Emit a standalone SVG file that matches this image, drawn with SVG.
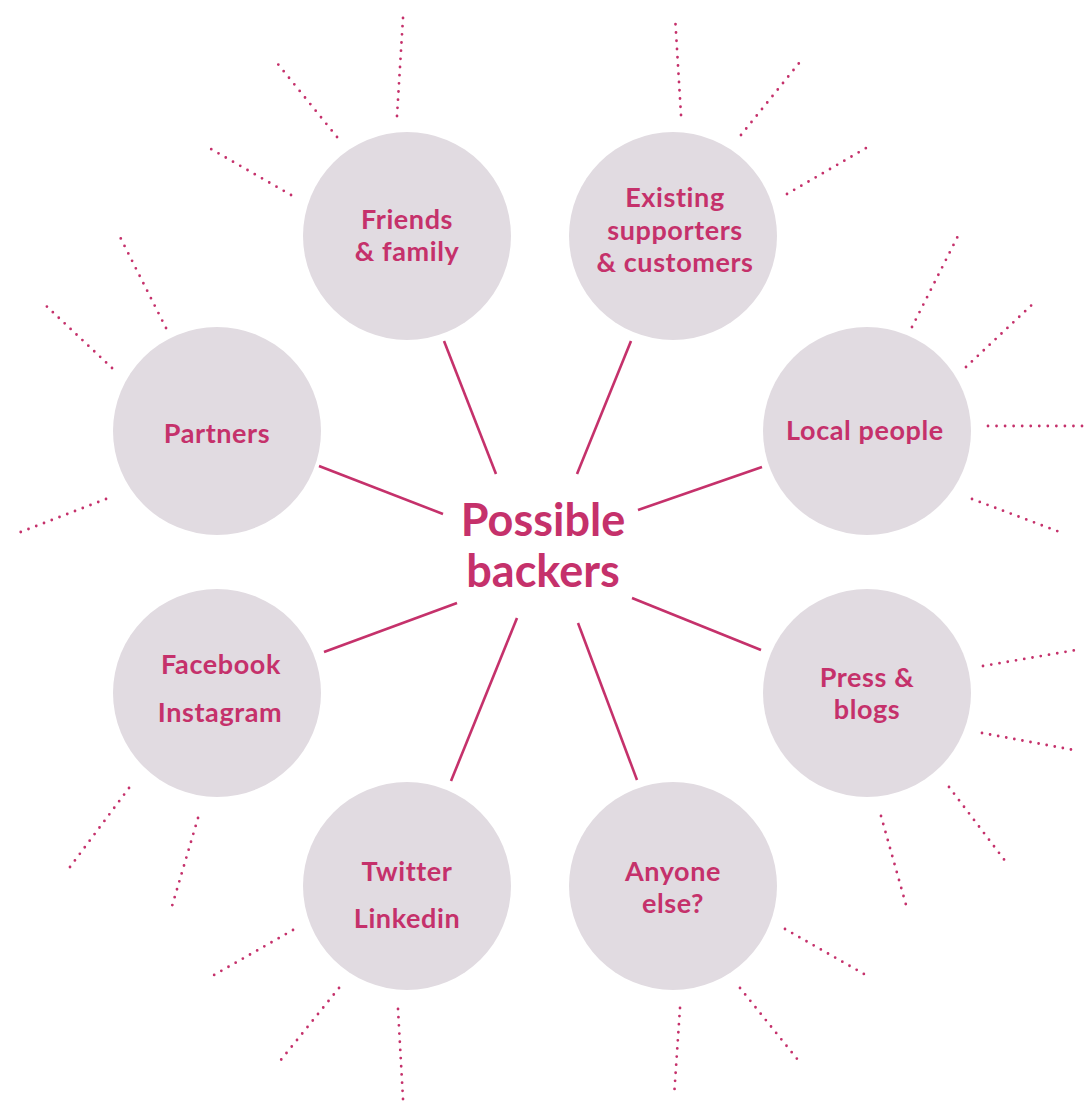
<svg xmlns="http://www.w3.org/2000/svg" width="1086" height="1104" viewBox="0 0 1086 1104">
<style>
.node{fill:#e1dbe1}
.lbl{font-family:Lato,"Open Sans","Liberation Sans",sans-serif;font-weight:700;font-size:27px;letter-spacing:0.6px;fill:#c5316b;text-anchor:middle}
.title{font-size:45px;letter-spacing:0}
.conn{stroke:#c5316b;stroke-width:2.6;fill:none;stroke-linecap:butt}
.dot{stroke:#c5316b;stroke-width:2.8;fill:none;stroke-linecap:round;stroke-dasharray:0 1}
</style>
<rect width="1086" height="1104" fill="#ffffff"/>
<g id="rays">
<line class="dot" pathLength="12" x1="397" y1="116" x2="403" y2="18"/>
<line class="dot" pathLength="12" x1="337" y1="137" x2="273" y2="58"/>
<line class="dot" pathLength="12" x1="291" y1="195" x2="204" y2="145"/>
<line class="dot" pathLength="12" x1="681" y1="115" x2="675" y2="16"/>
<line class="dot" pathLength="12" x1="741" y1="135" x2="804" y2="57"/>
<line class="dot" pathLength="12" x1="787" y1="194" x2="873" y2="144"/>
<line class="dot" pathLength="13" x1="166" y1="328" x2="117" y2="231"/>
<line class="dot" pathLength="12" x1="112" y1="368" x2="41" y2="301"/>
<line class="dot" pathLength="12" x1="106" y1="499" x2="13" y2="535"/>
<line class="dot" pathLength="13" x1="912" y1="327" x2="961" y2="230"/>
<line class="dot" pathLength="12" x1="966" y1="367" x2="1037" y2="300"/>
<line class="dot" pathLength="11" x1="988" y1="426" x2="1082" y2="426"/>
<line class="dot" pathLength="12" x1="972" y1="499" x2="1065" y2="534"/>
<line class="dot" pathLength="12" x1="983" y1="666" x2="1082" y2="649"/>
<line class="dot" pathLength="12" x1="982" y1="733" x2="1079" y2="751"/>
<line class="dot" pathLength="12" x1="949" y1="787" x2="1009" y2="866"/>
<line class="dot" pathLength="12" x1="881" y1="816" x2="908" y2="912"/>
<line class="dot" pathLength="12" x1="129" y1="788" x2="70" y2="867"/>
<line class="dot" pathLength="12" x1="198" y1="818" x2="170" y2="913"/>
<line class="dot" pathLength="12" x1="293" y1="930" x2="207" y2="979"/>
<line class="dot" pathLength="12" x1="339" y1="988" x2="276" y2="1066"/>
<line class="dot" pathLength="11" x1="398" y1="1009" x2="403" y2="1099"/>
<line class="dot" pathLength="12" x1="785" y1="929" x2="871" y2="978"/>
<line class="dot" pathLength="12" x1="740" y1="988" x2="802" y2="1065"/>
<line class="dot" pathLength="11" x1="680" y1="1008" x2="674" y2="1097"/>
</g>
<g id="connectors">
<line class="conn" x1="444" y1="341" x2="496" y2="474"/>
<line class="conn" x1="631" y1="341" x2="577" y2="474"/>
<line class="conn" x1="319" y1="466" x2="443" y2="514"/>
<line class="conn" x1="762" y1="467" x2="638" y2="510"/>
<line class="conn" x1="324" y1="652" x2="457" y2="603"/>
<line class="conn" x1="761" y1="650" x2="632" y2="598"/>
<line class="conn" x1="451" y1="781" x2="517" y2="618"/>
<line class="conn" x1="637" y1="780" x2="578" y2="623"/>
</g>
<g id="center">
<text class="lbl title" x="543" y="536">Possible</text>
<text class="lbl title" x="543" y="587">backers</text>
</g>
<g id="friends">
<circle class="node" cx="407" cy="236" r="104"/>
<text class="lbl" x="407" y="229">Friends</text>
<text class="lbl" x="407" y="261">&amp; family</text>
</g>
<g id="existing">
<circle class="node" cx="673" cy="236" r="104"/>
<text class="lbl" x="675" y="207">Existing</text>
<text class="lbl" x="675" y="240">supporters</text>
<text class="lbl" x="675" y="272">&amp; customers</text>
</g>
<g id="partners">
<circle class="node" cx="217" cy="431" r="104"/>
<text class="lbl" x="217" y="443">Partners</text>
</g>
<g id="local">
<circle class="node" cx="867" cy="431" r="104"/>
<text class="lbl" x="865" y="440">Local people</text>
</g>
<g id="facebook">
<circle class="node" cx="217" cy="693" r="104"/>
<text class="lbl" x="221" y="674">Facebook</text>
<text class="lbl" x="220" y="722">Instagram</text>
</g>
<g id="press">
<circle class="node" cx="867" cy="693" r="104"/>
<text class="lbl" x="867" y="687">Press &amp;</text>
<text class="lbl" x="867" y="719">blogs</text>
</g>
<g id="twitter">
<circle class="node" cx="407" cy="886" r="104"/>
<text class="lbl" x="407" y="881">Twitter</text>
<text class="lbl" x="407" y="928">Linkedin</text>
</g>
<g id="anyone">
<circle class="node" cx="673" cy="886" r="104"/>
<text class="lbl" x="673" y="881">Anyone</text>
<text class="lbl" x="673" y="913">else?</text>
</g>
</svg>
